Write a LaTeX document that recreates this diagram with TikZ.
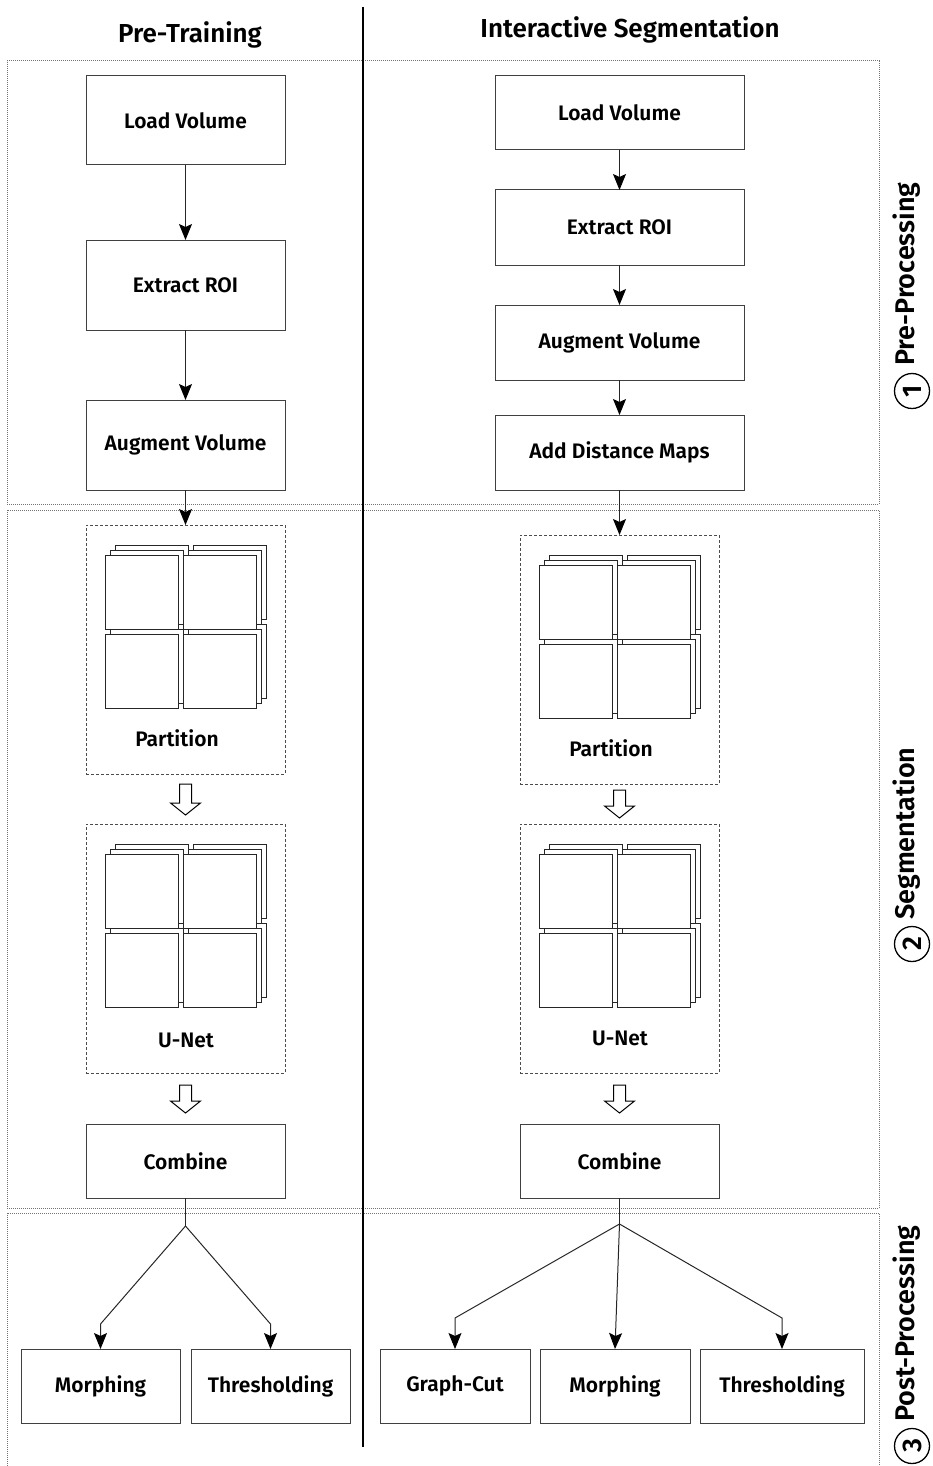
\documentclass[tikz,border=0pt]{standalone}
\usepackage{fontspec}
\setmainfont{Fira Sans}[BoldFont={Fira Sans SemiBold}]
\usetikzlibrary{arrows.meta,calc}
\newcommand{\sqstack}[2]{%
  \foreach \o in {10,5,0} {\draw[sqr] (#1+\o,#2-\o) rectangle ++(73,74);}}
\newcommand{\sqgrid}[2]{%
  \sqstack{#1}{#2+79}\sqstack{#1+78}{#2+79}\sqstack{#1}{#2}\sqstack{#1+78}{#2}}
\newcommand{\hollowarr}[2]{%
  \draw[harrow] let \p1=(#1), \p2=(#2) in
   (\x1-6pt,\y1) -- (\x1+6pt,\y1) -- (\x1+6pt,\y2+12pt) -- (\x1+15pt,\y2+12pt)
   -- (\x1,\y2) -- (\x1-15pt,\y2+12pt) -- (\x1-6pt,\y2+12pt) -- cycle;}
\begin{document}
\begin{tikzpicture}[x=1pt,y=-1pt,
  box/.style={draw=black!75, line width=1pt, fill=white, inner sep=0pt, outer sep=0pt,
    font=\fontsize{21}{24}\selectfont\bfseries, align=center},
  grp/.style={draw=black!70, line width=0.9pt, dash pattern=on 3pt off 2pt, inner sep=0pt, outer sep=0pt,
    minimum width=199, minimum height=249},
  sect/.style={draw=black!55, line width=1pt, dash pattern=on 1pt off 1pt, inner sep=0pt, outer sep=0pt},
  sqr/.style={draw=black!85, line width=1pt, fill=white},
  harrow/.style={draw=black, line width=1pt, fill=white},
  con/.style={draw=black!85, line width=1pt, -{Stealth[length=16pt,width=13pt,inset=3pt,color=black,fill=black]}},
  line/.style={draw=black!85, line width=1pt},
  lbl/.style={font=\fontsize{21}{24}\selectfont\bfseries},
  head/.style={font=\fontsize{26}{30}\selectfont\bfseries},
  side/.style={font=\fontsize{27}{30}\selectfont\bfseries, rotate=90, inner sep=0pt},
  num/.style={circle, draw=black, line width=1.3pt, minimum size=35pt, inner sep=0pt, rotate=90,
    font=\fontsize{27}{30}\selectfont\bfseries}
]
\useasboundingbox (0,0) rectangle (933,1466);
% sections
\node[sect, minimum width=872, minimum height=443] (s1) at (443,282.5) {};
\node[sect, minimum width=872, minimum height=698] (s2) at (443,859) {};
\node[sect, minimum width=872, minimum height=260] (s3) at (443,1343) {};
% divider
\coordinate (dtop) at (363,7);
\coordinate (dbot) at (363,1447);
\draw[line width=2pt] (dtop) -- (dbot);
% headings
\node[head] (h1) at (190,35) {Pre-Training};
\node[head] (h2) at (630,30) {Interactive Segmentation};
% side labels
\node[num] (c1) at (912,391) {1};
\node[side, anchor=north west] (t1) at (893,366) {Pre-Processing};
\node[num] (c2) at (912,944) {2};
\node[side, anchor=north west] (t2) at (893,920) {Segmentation};
\node[num] (c3) at (912,1446) {3};
\node[side, anchor=north west] (t3) at (893,1422) {Post-Processing};

% left column
\node[box, minimum width=199, minimum height=89] (l1) at (185.5,120.5) {Load Volume};
\node[box, minimum width=199, minimum height=90] (l2) at (185.5,285) {Extract ROI};
\node[box, minimum width=199, minimum height=90] (l3) at (185.5,445) {Augment Volume};
\node[grp] (lp) at (185.5,649.5) {};
\sqgrid{105}{555}
\node[lbl] (lpl) at (177,738) {Partition};
\node[grp] (lu) at (185.5,948.5) {};
\sqgrid{105}{854}
\node[lbl] (lul) at (186,1040) {U-Net};
\node[box, minimum width=199, minimum height=74] (lc) at (185.5,1161) {Combine};
\node[box, minimum width=159, minimum height=74] (lm) at (100.5,1386) {Morphing};
\node[box, minimum width=159, minimum height=74] (lt) at (270.5,1386) {Thresholding};
\draw[con] (l1) -- (l2);
\draw[con] (l2) -- (l3);
\draw[con] (l3) -- (lp);
\hollowarr{$(lp.south)+(0,10)$}{$(lu.north)+(0,-9)$}
\hollowarr{$(lu.south)+(0,12)$}{$(lc.north)+(0,-11)$}
\coordinate (lb) at (185.5,1226);
\coordinate (lk1) at (100.5,1324);
\coordinate (lk2) at (270.5,1324);
\draw[line] (lc.south) -- (lb);
\draw[con] (lb) -- (lk1) -- (lm.north);
\draw[con] (lb) -- (lk2) -- (lt.north);

% right column
\node[box, minimum width=249, minimum height=74] (r1) at (619.5,113) {Load Volume};
\node[box, minimum width=249, minimum height=75] (r2) at (619.5,227.5) {Extract ROI};
\node[box, minimum width=249, minimum height=75] (r3) at (619.5,342.5) {Augment Volume};
\node[box, minimum width=249, minimum height=75] (r4) at (619.5,452.5) {Add Distance Maps};
\node[grp] (rp) at (619.5,659.5) {};
\sqgrid{539}{565}
\node[lbl] (rpl) at (611,748) {Partition};
\node[grp] (ru) at (619.5,948.5) {};
\sqgrid{539}{854}
\node[lbl] (rul) at (620,1038) {U-Net};
\node[box, minimum width=199, minimum height=74] (rc) at (619.5,1161) {Combine};
\node[box, minimum width=150, minimum height=74] (rg) at (455,1386) {Graph-Cut};
\node[box, minimum width=150, minimum height=74] (rm) at (615,1386) {Morphing};
\node[box, minimum width=164, minimum height=74] (rt) at (782,1386) {Thresholding};
\draw[con] (r1) -- (r2);
\draw[con] (r2) -- (r3);
\draw[con] (r3) -- (r4);
\draw[con] (r4) -- (rp);
\hollowarr{$(rp.south)+(0,6)$}{$(ru.north)+(0,-6)$}
\hollowarr{$(ru.south)+(0,12)$}{$(rc.north)+(0,-11)$}
\coordinate (rb) at (619.5,1224);
\coordinate (rk1) at (455,1318);
\coordinate (rk3) at (782,1318);
\draw[line] (rc.south) -- (rb);
\draw[con] (rb) -- (rk1) -- (rg.north);
\draw[con] (rb) -- (rm.north);
\draw[con] (rb) -- (rk3) -- (rt.north);
\end{tikzpicture}
\end{document}
